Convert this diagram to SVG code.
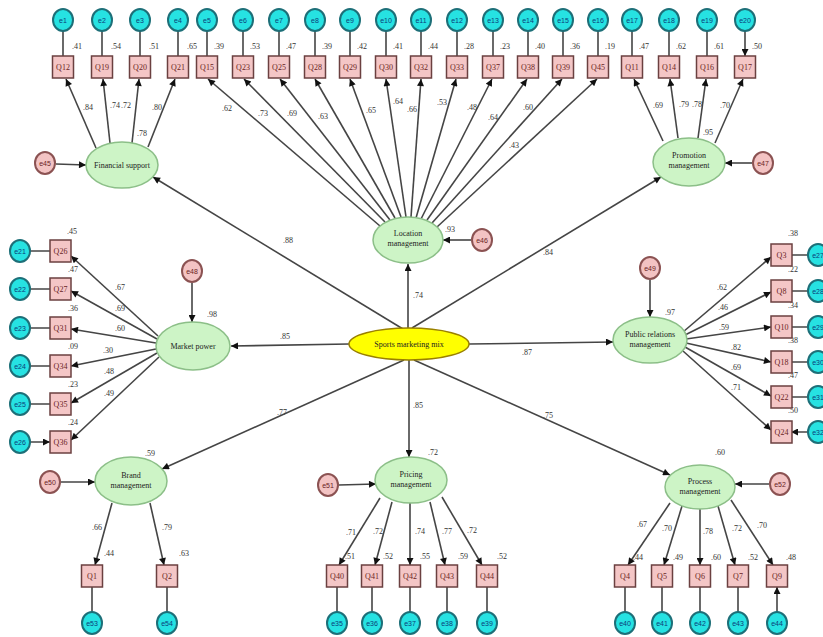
<svg xmlns="http://www.w3.org/2000/svg" width="823" height="637" viewBox="0 0 823 637">
<style>
.e{fill:#26e2e2;stroke:#1d6f78;stroke-width:2}
.et{font-family:"Liberation Sans",sans-serif;font-size:7px;fill:#0b3d7a;text-anchor:middle}
.q{fill:#f4c6c6;stroke:#6b4040;stroke-width:1.5}
.qt{font-family:"Liberation Serif",serif;font-size:8px;fill:#6a1f1f;text-anchor:middle}
.lv{fill:#cdf4c6;stroke:#8cbf88;stroke-width:1.5}
.sm{fill:#ffff00;stroke:#9a8000;stroke-width:1.5}
.lt{font-family:"Liberation Serif",serif;font-size:8px;fill:#222;text-anchor:middle}
.r{fill:#f3c3c3;stroke:#8b5252;stroke-width:2}
.rt{font-family:"Liberation Sans",sans-serif;font-size:7px;fill:#6a1f1f;text-anchor:middle}
.v{font-family:"Liberation Serif",serif;font-size:8px;fill:#333}
.c{stroke:#454545;stroke-width:1.6;fill:none;marker-end:url(#a)}
</style>
<defs>
<marker id="a" viewBox="0 0 10 10" refX="10" refY="5" markerWidth="9" markerHeight="7" markerUnits="userSpaceOnUse" orient="auto">
<path d="M0,0 L10,5 L0,10 z" fill="#111"/>
</marker>
</defs>
<rect width="823" height="637" fill="#fff"/>
<g id="connectors">
<!-- top e to Q -->
<path class="c" d="M63 31V56M102 31V56M140 31V56M178 31V56M207 31V56M243 31V56M279 31V56M315 31V56M350 31V56M386 31V56M421 31V56M457 31V56M493 31V56M528 31V56M563 31V56M598 31V56M632 31V56M669 31V56M707 31V56M745 31V56"/>
<!-- financial support -->
<path class="c" d="M96 148L66 79"/>
<path class="c" d="M110 143L103 79"/>
<path class="c" d="M132 143L139 79"/>
<path class="c" d="M148 147L175 79"/>
<!-- location -->
<path class="c" d="M380 226L208 79"/>
<path class="c" d="M385 222L244 79"/>
<path class="c" d="M390 220L280 79"/>
<path class="c" d="M395 218L315 79"/>
<path class="c" d="M401 217L350 79"/>
<path class="c" d="M406 217L386 79"/>
<path class="c" d="M411 217L421 79"/>
<path class="c" d="M416 218L456 79"/>
<path class="c" d="M421 219L492 79"/>
<path class="c" d="M427 220L527 79"/>
<path class="c" d="M432 223L562 79"/>
<path class="c" d="M437 227L597 79"/>
<!-- promotion -->
<path class="c" d="M663 141L634 79"/>
<path class="c" d="M678 138L670 79"/>
<path class="c" d="M698 138L706 79"/>
<path class="c" d="M715 143L743 79"/>
<!-- market power -->
<path class="c" d="M158 336L71 256"/>
<path class="c" d="M157 339L71 291"/>
<path class="c" d="M156 343L71 329"/>
<path class="c" d="M156 349L71 366"/>
<path class="c" d="M157 353L71 403"/>
<path class="c" d="M159 357L71 440"/>
<path class="c" d="M30 251H50M30 289H50M30 328H50M30 366H50M30 404H50M30 442H50"/>
<!-- public relations -->
<path class="c" d="M683 332L771 257"/>
<path class="c" d="M685 335L771 292"/>
<path class="c" d="M686 339L771 327"/>
<path class="c" d="M686 343L771 362"/>
<path class="c" d="M685 347L771 396"/>
<path class="c" d="M683 351L771 430"/>
<path class="c" d="M808 255H791M808 291H791M808 327H791M808 362H791M808 397H791M808 432H791"/>
<!-- brand -->
<path class="c" d="M112 503L95 565"/>
<path class="c" d="M150 503L164 565"/>
<!-- pricing -->
<path class="c" d="M380 498L339 565"/>
<path class="c" d="M392 502L375 565"/>
<path class="c" d="M410 503V565"/>
<path class="c" d="M430 502L445 565"/>
<path class="c" d="M442 497L482 565"/>
<!-- process -->
<path class="c" d="M670 503L628 565"/>
<path class="c" d="M682 506L664 565"/>
<path class="c" d="M700 509V565"/>
<path class="c" d="M718 506L735 565"/>
<path class="c" d="M731 500L773 565"/>
<!-- bottom e to Q -->
<path class="c" d="M92 612V587M167 612V587M337 612V587M372 612V587M410 612V587M447 612V587M487 612V587M625 612V587M662 612V587M700 612V587M738 612V587M777 612V587"/>
<!-- structural -->
<path class="c" d="M403 329L153 177"/>
<path class="c" d="M408 328V264"/>
<path class="c" d="M412 328L661 177"/>
<path class="c" d="M349 344L231 346"/>
<path class="c" d="M469 344L613 342"/>
<path class="c" d="M404 360L162 469"/>
<path class="c" d="M409 360V457"/>
<path class="c" d="M414 360L670 475"/>
<!-- residual errors -->
<path class="c" d="M56 164L86 165"/>
<path class="c" d="M471 240H443"/>
<path class="c" d="M752 163H725"/>
<path class="c" d="M192 283V322"/>
<path class="c" d="M650 280V317"/>
<path class="c" d="M61 482H95"/>
<path class="c" d="M339 485L376 484"/>
<path class="c" d="M769 484H735"/>
</g>
<g id="labels" class="v">
<text x="72" y="49">.41</text><text x="111" y="49">.54</text><text x="149" y="49">.51</text><text x="187" y="49">.65</text>
<text x="214" y="49">.39</text><text x="250" y="49">.53</text><text x="286" y="49">.47</text><text x="322" y="49">.39</text>
<text x="357" y="49">.42</text><text x="393" y="49">.41</text><text x="428" y="49">.44</text><text x="464" y="49">.28</text>
<text x="500" y="49">.23</text><text x="535" y="49">.40</text><text x="570" y="49">.36</text><text x="605" y="49">.19</text>
<text x="639" y="49">.47</text><text x="676" y="49">.62</text><text x="714" y="49">.61</text><text x="752" y="49">.50</text>
<text x="83" y="110">.84</text><text x="110" y="108">.74</text><text x="121" y="108">.72</text><text x="152" y="110">.80</text><text x="137" y="136">.78</text>
<text x="222" y="111">.62</text><text x="258" y="116">.73</text><text x="287" y="116">.69</text><text x="318" y="119">.63</text>
<text x="366" y="113">.65</text><text x="393" y="104">.64</text><text x="407" y="112">.66</text><text x="437" y="105">.53</text>
<text x="467" y="110">.48</text><text x="488" y="120">.64</text><text x="523" y="110">.60</text><text x="509" y="148">.43</text>
<text x="653" y="108">.69</text><text x="679" y="107">.79</text><text x="692" y="107">.78</text><text x="720" y="108">.70</text><text x="703" y="135">.95</text>
<text x="67" y="234">.45</text><text x="68" y="272">.47</text><text x="68" y="311">.36</text><text x="68" y="349">.09</text><text x="68" y="387">.23</text><text x="68" y="425">.24</text>
<text x="115" y="290">.67</text><text x="115" y="311">.69</text><text x="115" y="331">.60</text><text x="103" y="353">.30</text><text x="104" y="374">.48</text><text x="104" y="396">.49</text>
<text x="207" y="317">.98</text>
<text x="788" y="236">.38</text><text x="788" y="272">.22</text><text x="788" y="308">.34</text><text x="788" y="343">.38</text><text x="788" y="378">.47</text><text x="788" y="413">.50</text>
<text x="717" y="290">.62</text><text x="718" y="310">.46</text><text x="719" y="330">.59</text><text x="731" y="350">.82</text><text x="731" y="370">.69</text><text x="731" y="390">.71</text>
<text x="665" y="315">.97</text>
<text x="445" y="232">.93</text>
<text x="283" y="243">.88</text><text x="413" y="298">.74</text><text x="543" y="255">.84</text>
<text x="280" y="339">.85</text><text x="522" y="355">.87</text>
<text x="277" y="415">.77</text><text x="413" y="408">.85</text><text x="543" y="418">.75</text>
<text x="145" y="456">.59</text><text x="92" y="530">.66</text><text x="162" y="530">.79</text>
<text x="104" y="556">.44</text><text x="179" y="556">.63</text>
<text x="428" y="455">.72</text>
<text x="346" y="535">.71</text><text x="373" y="534">.72</text><text x="415" y="534">.74</text><text x="442" y="534">.77</text><text x="467" y="533">.72</text>
<text x="345" y="559">.51</text><text x="383" y="559">.52</text><text x="420" y="559">.55</text><text x="458" y="559">.59</text><text x="497" y="559">.52</text>
<text x="715" y="455">.60</text>
<text x="637" y="527">.67</text><text x="662" y="531">.70</text><text x="703" y="534">.78</text><text x="732" y="531">.72</text><text x="757" y="528">.70</text>
<text x="633" y="560">.44</text><text x="673" y="560">.49</text><text x="711" y="560">.60</text><text x="748" y="560">.52</text><text x="786" y="560">.48</text>
</g>
<!-- latent variables -->
<g id="sports-marketing-mix"><ellipse class="sm" cx="409" cy="344" rx="60" ry="16"/><text class="lt" x="409" y="347">Sports marketing mix</text></g>
<g id="financial-support"><ellipse class="lv" cx="122" cy="165" rx="36" ry="23"/><text class="lt" x="122" y="168">Financial support</text></g>
<g id="location-management"><ellipse class="lv" cx="408" cy="240" rx="35" ry="23"/><text class="lt" x="408" y="236">Location</text><text class="lt" x="408" y="246">management</text></g>
<g id="promotion-management"><ellipse class="lv" cx="689" cy="162" rx="36" ry="24"/><text class="lt" x="689" y="158">Promotion</text><text class="lt" x="689" y="168">management</text></g>
<g id="market-power"><ellipse class="lv" cx="193" cy="346" rx="37" ry="24"/><text class="lt" x="193" y="349">Market power</text></g>
<g id="public-relations-management"><ellipse class="lv" cx="650" cy="340" rx="37" ry="23"/><text class="lt" x="650" y="337">Public relations</text><text class="lt" x="650" y="347">management</text></g>
<g id="brand-management"><ellipse class="lv" cx="131" cy="481" rx="36" ry="24"/><text class="lt" x="131" y="478">Brand</text><text class="lt" x="131" y="488">management</text></g>
<g id="pricing-management"><ellipse class="lv" cx="411" cy="480" rx="36" ry="23"/><text class="lt" x="411" y="477">Pricing</text><text class="lt" x="411" y="487">management</text></g>
<g id="process-management"><ellipse class="lv" cx="700" cy="487" rx="35" ry="22"/><text class="lt" x="700" y="484">Process</text><text class="lt" x="700" y="494">management</text></g>
<!-- residuals of latent variables -->
<g id="e45"><ellipse class="r" cx="45" cy="163" rx="10" ry="11"/><text class="rt" x="45" y="165.5">e45</text></g>
<g id="e46"><ellipse class="r" cx="482" cy="240" rx="10" ry="11"/><text class="rt" x="482" y="242.5">e46</text></g>
<g id="e47"><ellipse class="r" cx="763" cy="163" rx="10" ry="11"/><text class="rt" x="763" y="165.5">e47</text></g>
<g id="e48"><ellipse class="r" cx="192" cy="271" rx="10" ry="11"/><text class="rt" x="192" y="273.5">e48</text></g>
<g id="e49"><ellipse class="r" cx="650" cy="268" rx="10" ry="11"/><text class="rt" x="650" y="270.5">e49</text></g>
<g id="e50"><ellipse class="r" cx="50" cy="482" rx="10" ry="11"/><text class="rt" x="50" y="484.5">e50</text></g>
<g id="e51"><ellipse class="r" cx="328" cy="485" rx="10" ry="11"/><text class="rt" x="328" y="487.5">e51</text></g>
<g id="e52"><ellipse class="r" cx="780" cy="484" rx="10" ry="11"/><text class="rt" x="780" y="486.5">e52</text></g>
<!-- top indicators -->
<g id="e1"><ellipse class="e" cx="63" cy="20" rx="10" ry="11"/><text class="et" x="63" y="22.5">e1</text></g>
<g id="e2"><ellipse class="e" cx="102" cy="20" rx="10" ry="11"/><text class="et" x="102" y="22.5">e2</text></g>
<g id="e3"><ellipse class="e" cx="140" cy="20" rx="10" ry="11"/><text class="et" x="140" y="22.5">e3</text></g>
<g id="e4"><ellipse class="e" cx="178" cy="20" rx="10" ry="11"/><text class="et" x="178" y="22.5">e4</text></g>
<g id="e5"><ellipse class="e" cx="207" cy="20" rx="10" ry="11"/><text class="et" x="207" y="22.5">e5</text></g>
<g id="e6"><ellipse class="e" cx="243" cy="20" rx="10" ry="11"/><text class="et" x="243" y="22.5">e6</text></g>
<g id="e7"><ellipse class="e" cx="279" cy="20" rx="10" ry="11"/><text class="et" x="279" y="22.5">e7</text></g>
<g id="e8"><ellipse class="e" cx="315" cy="20" rx="10" ry="11"/><text class="et" x="315" y="22.5">e8</text></g>
<g id="e9"><ellipse class="e" cx="350" cy="20" rx="10" ry="11"/><text class="et" x="350" y="22.5">e9</text></g>
<g id="e10"><ellipse class="e" cx="386" cy="20" rx="10" ry="11"/><text class="et" x="386" y="22.5">e10</text></g>
<g id="e11"><ellipse class="e" cx="421" cy="20" rx="10" ry="11"/><text class="et" x="421" y="22.5">e11</text></g>
<g id="e12"><ellipse class="e" cx="457" cy="20" rx="10" ry="11"/><text class="et" x="457" y="22.5">e12</text></g>
<g id="e13"><ellipse class="e" cx="493" cy="20" rx="10" ry="11"/><text class="et" x="493" y="22.5">e13</text></g>
<g id="e14"><ellipse class="e" cx="528" cy="20" rx="10" ry="11"/><text class="et" x="528" y="22.5">e14</text></g>
<g id="e15"><ellipse class="e" cx="563" cy="20" rx="10" ry="11"/><text class="et" x="563" y="22.5">e15</text></g>
<g id="e16"><ellipse class="e" cx="598" cy="20" rx="10" ry="11"/><text class="et" x="598" y="22.5">e16</text></g>
<g id="e17"><ellipse class="e" cx="632" cy="20" rx="10" ry="11"/><text class="et" x="632" y="22.5">e17</text></g>
<g id="e18"><ellipse class="e" cx="669" cy="20" rx="10" ry="11"/><text class="et" x="669" y="22.5">e18</text></g>
<g id="e19"><ellipse class="e" cx="707" cy="20" rx="10" ry="11"/><text class="et" x="707" y="22.5">e19</text></g>
<g id="e20"><ellipse class="e" cx="745" cy="20" rx="10" ry="11"/><text class="et" x="745" y="22.5">e20</text></g>
<g id="Q12"><rect class="q" x="52.5" y="56" width="21" height="22"/><text class="qt" x="63" y="70">Q12</text></g>
<g id="Q19"><rect class="q" x="91.5" y="56" width="21" height="22"/><text class="qt" x="102" y="70">Q19</text></g>
<g id="Q20"><rect class="q" x="129.5" y="56" width="21" height="22"/><text class="qt" x="140" y="70">Q20</text></g>
<g id="Q21"><rect class="q" x="167.5" y="56" width="21" height="22"/><text class="qt" x="178" y="70">Q21</text></g>
<g id="Q15"><rect class="q" x="196.5" y="56" width="21" height="22"/><text class="qt" x="207" y="70">Q15</text></g>
<g id="Q23"><rect class="q" x="232.5" y="56" width="21" height="22"/><text class="qt" x="243" y="70">Q23</text></g>
<g id="Q25"><rect class="q" x="268.5" y="56" width="21" height="22"/><text class="qt" x="279" y="70">Q25</text></g>
<g id="Q28"><rect class="q" x="304.5" y="56" width="21" height="22"/><text class="qt" x="315" y="70">Q28</text></g>
<g id="Q29"><rect class="q" x="339.5" y="56" width="21" height="22"/><text class="qt" x="350" y="70">Q29</text></g>
<g id="Q30"><rect class="q" x="375.5" y="56" width="21" height="22"/><text class="qt" x="386" y="70">Q30</text></g>
<g id="Q32"><rect class="q" x="410.5" y="56" width="21" height="22"/><text class="qt" x="421" y="70">Q32</text></g>
<g id="Q33"><rect class="q" x="446.5" y="56" width="21" height="22"/><text class="qt" x="457" y="70">Q33</text></g>
<g id="Q37"><rect class="q" x="482.5" y="56" width="21" height="22"/><text class="qt" x="493" y="70">Q37</text></g>
<g id="Q38"><rect class="q" x="517.5" y="56" width="21" height="22"/><text class="qt" x="528" y="70">Q38</text></g>
<g id="Q39"><rect class="q" x="552.5" y="56" width="21" height="22"/><text class="qt" x="563" y="70">Q39</text></g>
<g id="Q45"><rect class="q" x="587.5" y="56" width="21" height="22"/><text class="qt" x="598" y="70">Q45</text></g>
<g id="Q11"><rect class="q" x="621.5" y="56" width="21" height="22"/><text class="qt" x="632" y="70">Q11</text></g>
<g id="Q14"><rect class="q" x="658.5" y="56" width="21" height="22"/><text class="qt" x="669" y="70">Q14</text></g>
<g id="Q16"><rect class="q" x="696.5" y="56" width="21" height="22"/><text class="qt" x="707" y="70">Q16</text></g>
<g id="Q17"><rect class="q" x="734.5" y="56" width="21" height="22"/><text class="qt" x="745" y="70">Q17</text></g>
<!-- left indicators -->
<g id="e21"><ellipse class="e" cx="20" cy="251" rx="10" ry="11"/><text class="et" x="20" y="253.5">e21</text></g>
<g id="e22"><ellipse class="e" cx="20" cy="289" rx="10" ry="11"/><text class="et" x="20" y="291.5">e22</text></g>
<g id="e23"><ellipse class="e" cx="20" cy="328" rx="10" ry="11"/><text class="et" x="20" y="330.5">e23</text></g>
<g id="e24"><ellipse class="e" cx="20" cy="366" rx="10" ry="11"/><text class="et" x="20" y="368.5">e24</text></g>
<g id="e25"><ellipse class="e" cx="20" cy="404" rx="10" ry="11"/><text class="et" x="20" y="406.5">e25</text></g>
<g id="e26"><ellipse class="e" cx="20" cy="442" rx="10" ry="11"/><text class="et" x="20" y="444.5">e26</text></g>
<g id="Q26"><rect class="q" x="50" y="240" width="21" height="22"/><text class="qt" x="60.5" y="254">Q26</text></g>
<g id="Q27"><rect class="q" x="50" y="278" width="21" height="22"/><text class="qt" x="60.5" y="292">Q27</text></g>
<g id="Q31"><rect class="q" x="50" y="317" width="21" height="22"/><text class="qt" x="60.5" y="331">Q31</text></g>
<g id="Q34"><rect class="q" x="50" y="355" width="21" height="22"/><text class="qt" x="60.5" y="369">Q34</text></g>
<g id="Q35"><rect class="q" x="50" y="393" width="21" height="22"/><text class="qt" x="60.5" y="407">Q35</text></g>
<g id="Q36"><rect class="q" x="50" y="431" width="21" height="22"/><text class="qt" x="60.5" y="445">Q36</text></g>
<!-- right indicators -->
<g id="Q3"><rect class="q" x="771" y="244" width="21" height="22"/><text class="qt" x="781.5" y="258">Q3</text></g>
<g id="Q8"><rect class="q" x="771" y="280" width="21" height="22"/><text class="qt" x="781.5" y="294">Q8</text></g>
<g id="Q10"><rect class="q" x="771" y="316" width="21" height="22"/><text class="qt" x="781.5" y="330">Q10</text></g>
<g id="Q18"><rect class="q" x="771" y="351" width="21" height="22"/><text class="qt" x="781.5" y="365">Q18</text></g>
<g id="Q22"><rect class="q" x="771" y="386" width="21" height="22"/><text class="qt" x="781.5" y="400">Q22</text></g>
<g id="Q24"><rect class="q" x="771" y="421" width="21" height="22"/><text class="qt" x="781.5" y="435">Q24</text></g>
<g id="e27"><ellipse class="e" cx="818" cy="255" rx="10" ry="11"/><text class="et" x="818" y="257.5">e27</text></g>
<g id="e28"><ellipse class="e" cx="818" cy="291" rx="10" ry="11"/><text class="et" x="818" y="293.5">e28</text></g>
<g id="e29"><ellipse class="e" cx="818" cy="327" rx="10" ry="11"/><text class="et" x="818" y="329.5">e29</text></g>
<g id="e30"><ellipse class="e" cx="818" cy="362" rx="10" ry="11"/><text class="et" x="818" y="364.5">e30</text></g>
<g id="e31"><ellipse class="e" cx="818" cy="397" rx="10" ry="11"/><text class="et" x="818" y="399.5">e31</text></g>
<g id="e32"><ellipse class="e" cx="818" cy="432" rx="10" ry="11"/><text class="et" x="818" y="434.5">e32</text></g>
<!-- bottom indicators -->
<g id="Q1"><rect class="q" x="81.5" y="565" width="21" height="22"/><text class="qt" x="92" y="579">Q1</text></g>
<g id="Q2"><rect class="q" x="156.5" y="565" width="21" height="22"/><text class="qt" x="167" y="579">Q2</text></g>
<g id="Q40"><rect class="q" x="326.5" y="565" width="21" height="22"/><text class="qt" x="337" y="579">Q40</text></g>
<g id="Q41"><rect class="q" x="361.5" y="565" width="21" height="22"/><text class="qt" x="372" y="579">Q41</text></g>
<g id="Q42"><rect class="q" x="399.5" y="565" width="21" height="22"/><text class="qt" x="410" y="579">Q42</text></g>
<g id="Q43"><rect class="q" x="436.5" y="565" width="21" height="22"/><text class="qt" x="447" y="579">Q43</text></g>
<g id="Q44"><rect class="q" x="476.5" y="565" width="21" height="22"/><text class="qt" x="487" y="579">Q44</text></g>
<g id="Q4"><rect class="q" x="614.5" y="565" width="21" height="22"/><text class="qt" x="625" y="579">Q4</text></g>
<g id="Q5"><rect class="q" x="651.5" y="565" width="21" height="22"/><text class="qt" x="662" y="579">Q5</text></g>
<g id="Q6"><rect class="q" x="689.5" y="565" width="21" height="22"/><text class="qt" x="700" y="579">Q6</text></g>
<g id="Q7"><rect class="q" x="727.5" y="565" width="21" height="22"/><text class="qt" x="738" y="579">Q7</text></g>
<g id="Q9"><rect class="q" x="766.5" y="565" width="21" height="22"/><text class="qt" x="777" y="579">Q9</text></g>
<g id="e53"><ellipse class="e" cx="92" cy="623" rx="10" ry="11"/><text class="et" x="92" y="625.5">e53</text></g>
<g id="e54"><ellipse class="e" cx="167" cy="623" rx="10" ry="11"/><text class="et" x="167" y="625.5">e54</text></g>
<g id="e35"><ellipse class="e" cx="337" cy="623" rx="10" ry="11"/><text class="et" x="337" y="625.5">e35</text></g>
<g id="e36"><ellipse class="e" cx="372" cy="623" rx="10" ry="11"/><text class="et" x="372" y="625.5">e36</text></g>
<g id="e37"><ellipse class="e" cx="410" cy="623" rx="10" ry="11"/><text class="et" x="410" y="625.5">e37</text></g>
<g id="e38"><ellipse class="e" cx="447" cy="623" rx="10" ry="11"/><text class="et" x="447" y="625.5">e38</text></g>
<g id="e39"><ellipse class="e" cx="487" cy="623" rx="10" ry="11"/><text class="et" x="487" y="625.5">e39</text></g>
<g id="e40"><ellipse class="e" cx="625" cy="623" rx="10" ry="11"/><text class="et" x="625" y="625.5">e40</text></g>
<g id="e41"><ellipse class="e" cx="662" cy="623" rx="10" ry="11"/><text class="et" x="662" y="625.5">e41</text></g>
<g id="e42"><ellipse class="e" cx="700" cy="623" rx="10" ry="11"/><text class="et" x="700" y="625.5">e42</text></g>
<g id="e43"><ellipse class="e" cx="738" cy="623" rx="10" ry="11"/><text class="et" x="738" y="625.5">e43</text></g>
<g id="e44"><ellipse class="e" cx="777" cy="623" rx="10" ry="11"/><text class="et" x="777" y="625.5">e44</text></g>
</svg>
